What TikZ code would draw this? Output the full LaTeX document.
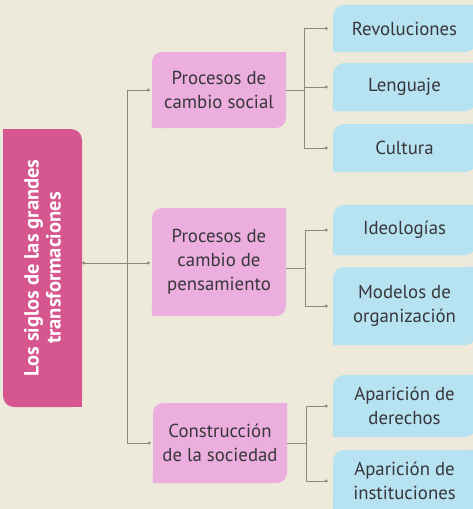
\documentclass[tikz,border=0pt]{standalone}
\usepackage{fontspec}
\setmainfont{PT Sans}
\usepackage{tikz}
\usetikzlibrary{arrows.meta, calc}
\usepackage{xcolor}
\definecolor{bg-cream}{RGB}{237,234,219}
\definecolor{root-magenta}{RGB}{214,86,144}
\definecolor{topic-pink}{RGB}{236,174,222}
\definecolor{leaf-blue}{RGB}{182,226,242}
\definecolor{ink}{RGB}{55,55,58}
\definecolor{link-gray}{RGB}{140,137,122}

\tikzset{
	root/.style={fill=root-magenta, rounded corners=11pt, rotate=90, inner sep=0pt,
		minimum width=278pt, minimum height=79pt, align=center, text=white,
		font=\fontsize{20.5}{22}\selectfont\bfseries},
	topic/.style={fill=topic-pink, rounded corners=10pt, inner sep=0pt,
		minimum width=134pt, align=center, text=ink, font=\fontsize{18.8}{24}\selectfont},
	leaf/.style={fill=leaf-blue, rounded corners=11pt, inner sep=0pt,
		minimum width=143pt, align=center, text=ink, font=\fontsize{18.8}{24}\selectfont},
	link/.style={draw=link-gray, line width=0.7pt, -{Circle[length=3pt]}},
}

\begin{document}
\begin{tikzpicture}[x=1pt, y=-1pt]
	\useasboundingbox[fill=bg-cream] (0,0) rectangle (473,509);

	\node[root] at (42.5,268) (root) {Los siglos de las grandes\\transformaciones};
	\fill[root-magenta] (root.north east) rectangle ++(12pt,-12pt);
	\fill[root-magenta] (root.south west) rectangle ++(-12pt,12pt);

	\node[topic, minimum height=76pt] at (219,90) (p1) {Procesos de\\cambio social};
	\node[topic, minimum height=108pt] at (219,262) (p2) {Procesos de\\cambio de\\pensamiento};
	\node[topic, minimum height=80pt] at (220,443) (p3) {Construcción\\de la sociedad};

	\node[leaf, minimum height=47pt] at (404.5,28.5) (a1) {Revoluciones};
	\node[leaf, minimum height=48pt] at (404.5,87) (a2) {Lenguaje};
	\node[leaf, minimum height=48pt] at (404.5,148) (a3) {Cultura};
	\node[leaf, minimum height=50pt] at (404.5,230) (b1) {Ideologías};
	\node[leaf, minimum height=78pt] at (404.5,306) (b2) {Modelos de\\organización};
	\node[leaf, minimum height=62pt] at (404.5,406) (c1) {Aparición de\\derechos};
	\node[leaf, minimum height=62pt] at (404.5,481) (c2) {Aparición de\\instituciones};

	% square off two corners of every box
	\foreach \n/\c in {p1/topic-pink, p2/topic-pink, p3/topic-pink, a1/leaf-blue, a2/leaf-blue, a3/leaf-blue, b1/leaf-blue, b2/leaf-blue, c1/leaf-blue, c2/leaf-blue}
		\fill[\c] (\n.north east) rectangle ++(-12pt,-12pt) (\n.south west) rectangle ++(12pt,12pt);

	% first level
	\coordinate (j0) at (127,263);
	\draw[link, {Circle[length=3pt]}-] (j0 -| root.south) -- (j0);
	\draw[link, shorten >=2pt] (j0) |- (p1.west);
	\draw[link, shorten >=2pt] (j0) -- (j0 -| p2.west);
	\draw[link, shorten >=2pt] (j0) |- (p3.west);

	% second level
	\coordinate (j1) at ($(p1.east)+(18,0)$);
	\draw[link, -] (p1.east) -- (j1);
	\foreach \n in {a1, a2, a3}
		\draw[link, shorten >=5pt] (j1) |- (\n.west);

	\coordinate (j2) at ($(p2.east)+(19,6)$);
	\draw[link, -] (p2.east |- j2) -- (j2);
	\foreach \n in {b1, b2}
		\draw[link, shorten >=5pt] (j2) |- (\n.west);

	\coordinate (j3) at ($(p3.east)+(19,0)$);
	\draw[link, -] (p3.east) -- (j3);
	\foreach \n in {c1, c2}
		\draw[link, shorten >=5pt] (j3) |- (\n.west);
\end{tikzpicture}
\end{document}
